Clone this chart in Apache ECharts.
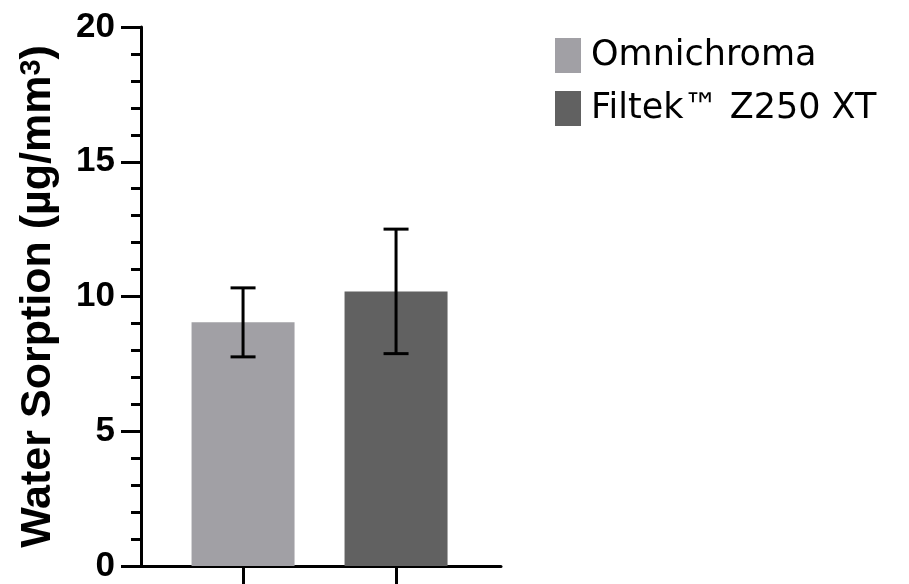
<!DOCTYPE html>
<html>
<head>
<meta charset="utf-8">
<script src="https://cdn.jsdelivr.net/npm/echarts@6/dist/echarts.min.js"></script>
<style>
  html, body { margin: 0; padding: 0; background: #fff; }
  #main { width: 909px; height: 584px; }
</style>
</head>
<body>
<div id="main"></div>
<script>
// data
const groups = ['Omnichroma', 'Filtek™ Z250 XT'];
const means = [9.04, 10.19];
const sds = [1.28, 2.31];
const barColors = ['#a1a0a5', '#616161'];
const yTicks = [0, 5, 10, 15, 20];

document.addEventListener('DOMContentLoaded', function () {
    const chart = echarts.init(document.getElementById('main'));
    const font = 'DejaVu Sans';
    const boldFont = 'Liberation Sans';

    // one bar series per group so the legend shows both
    const barSeries = groups.map((name, i) => ({
        name: name,
        type: 'bar',
        barWidth: 103,
        barGap: '-100%',
        itemStyle: { color: barColors[i] },
        data: [[i, means[i]]]
    }));

    const errorSeries = {
        type: 'custom',
        z: 10,
        silent: true,
        data: groups.map((g, i) => [i, means[i] - sds[i], means[i] + sds[i]]),
        renderItem: function (params, api) {
            const lo = api.coord([api.value(0), api.value(1)]);
            const hi = api.coord([api.value(0), api.value(2)]);
            const half = 12.5;
            const style = { stroke: '#000', lineWidth: 3 };
            return {
                type: 'group',
                children: [
                    { type: 'line', shape: { x1: lo[0], y1: lo[1], x2: hi[0], y2: hi[1] }, style: style },
                    { type: 'line', shape: { x1: hi[0] - half, y1: hi[1], x2: hi[0] + half, y2: hi[1] }, style: style },
                    { type: 'line', shape: { x1: lo[0] - half, y1: lo[1], x2: lo[0] + half, y2: lo[1] }, style: style }
                ]
            };
        }
    };

    const option = {
        animation: false,
        grid: { left: 141, right: 408, top: 27, bottom: 18, outerBoundsMode: 'none' },
        legend: {
            orient: 'vertical',
            left: 555,
            top: 38,
            padding: 0,
            itemWidth: 26,
            itemHeight: 35,
            itemGap: 18,
            icon: 'rect',
            data: groups,
            textStyle: { fontFamily: font, fontSize: 35, color: '#000', padding: [0, 0, 0, 5] }
        },
        xAxis: {
            type: 'value',
            min: -0.667,
            max: 1.686,
            splitLine: { show: false },
            axisLine: { show: true, onZero: false, lineStyle: { color: '#000', width: 3 } },
            axisTick: { show: true, customValues: [0, 1], length: 20, lineStyle: { color: '#000', width: 3 } },
            axisLabel: { show: false }
        },
        yAxis: {
            type: 'value',
            min: yTicks[0],
            max: yTicks[yTicks.length - 1],
            interval: 5,
            name: 'Water Sorption (µg/mm{sup|3})',
            nameLocation: 'middle',
            nameGap: 81,
            nameTextStyle: {
                fontFamily: boldFont,
                fontWeight: 'bold',
                fontSize: 43,
                color: '#000',
                rich: {
                    sup: { fontFamily: boldFont, fontWeight: 'bold', fontSize: 29, color: '#000', verticalAlign: 'top' }
                }
            },
            splitLine: { show: false },
            axisLine: { show: true, onZero: false, lineStyle: { color: '#000', width: 3 } },
            axisTick: { show: true, length: 20, lineStyle: { color: '#000', width: 3 } },
            minorTick: { show: true, splitNumber: 5, length: 10, lineStyle: { color: '#000', width: 3 } },
            axisLabel: {
                margin: 26,
                fontFamily: boldFont,
                fontWeight: 'bold',
                fontSize: 35,
                color: '#000'
            }
        },
        series: barSeries.concat([errorSeries])
    };

    chart.setOption(option);

    window.addEventListener('resize', function () {
        chart.resize();
    });
});
</script>
</body>
</html>
